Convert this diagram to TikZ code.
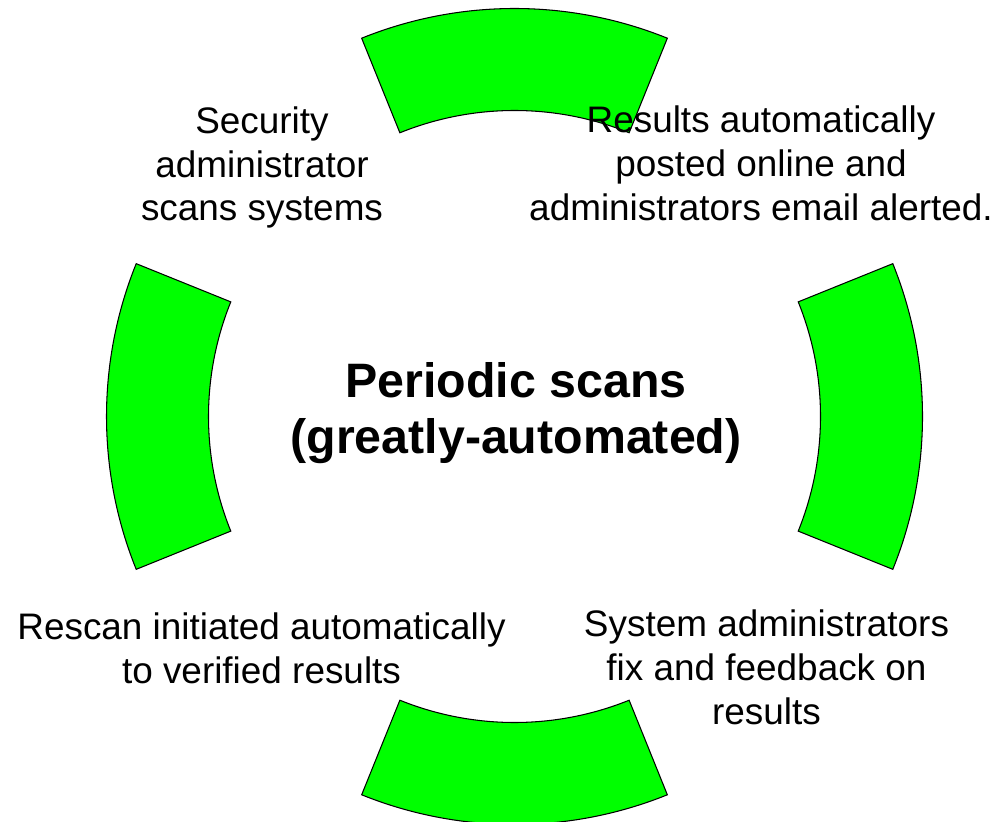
\documentclass[tikz,border=0pt]{standalone}
\usepackage{fontspec}
\setmainfont{Liberation Sans}
\usepackage{tikz}
\definecolor{scan-green}{HTML}{00FF00}

\begin{document}
\begin{tikzpicture}[
    ring/.style={draw=black, line width=0.6pt, fill=scan-green},
    txt/.style={align=center, inner sep=0pt, font=\fontsize{21}{25}\selectfont},
    title/.style={align=center, inner sep=0pt, font=\bfseries\fontsize{27.5}{32}\selectfont}
]
    \useasboundingbox (0,0) rectangle (19.98,16.42);
    \begin{scope}[shift={(10.29,8.09)}]
        \foreach \a in {0,90,180,270}
            \draw[ring] (\a-22:6.12) arc[start angle=\a-22, end angle=\a+22, radius=6.12]
                -- (\a+22:8.16) arc[start angle=\a+22, end angle=\a-22, radius=8.16] -- cycle;
    \end{scope}

    \node[title] (cycle) at (10.32,8.16) {Periodic scans\\(greatly-automated)};
    \node[txt] (scan) at (5.24,13.07) {Security\\administrator\\scans systems};
    \node[txt] (post) at (15.22,13.16) {Results automatically\\posted online and\\administrators email alerted.};
    \node[txt] (fix) at (15.33,3.07) {System administrators\\fix and feedback on\\results};
    \node[txt] (rescan) at (5.23,3.46) {Rescan initiated automatically\\to verified results};
\end{tikzpicture}
\end{document}
